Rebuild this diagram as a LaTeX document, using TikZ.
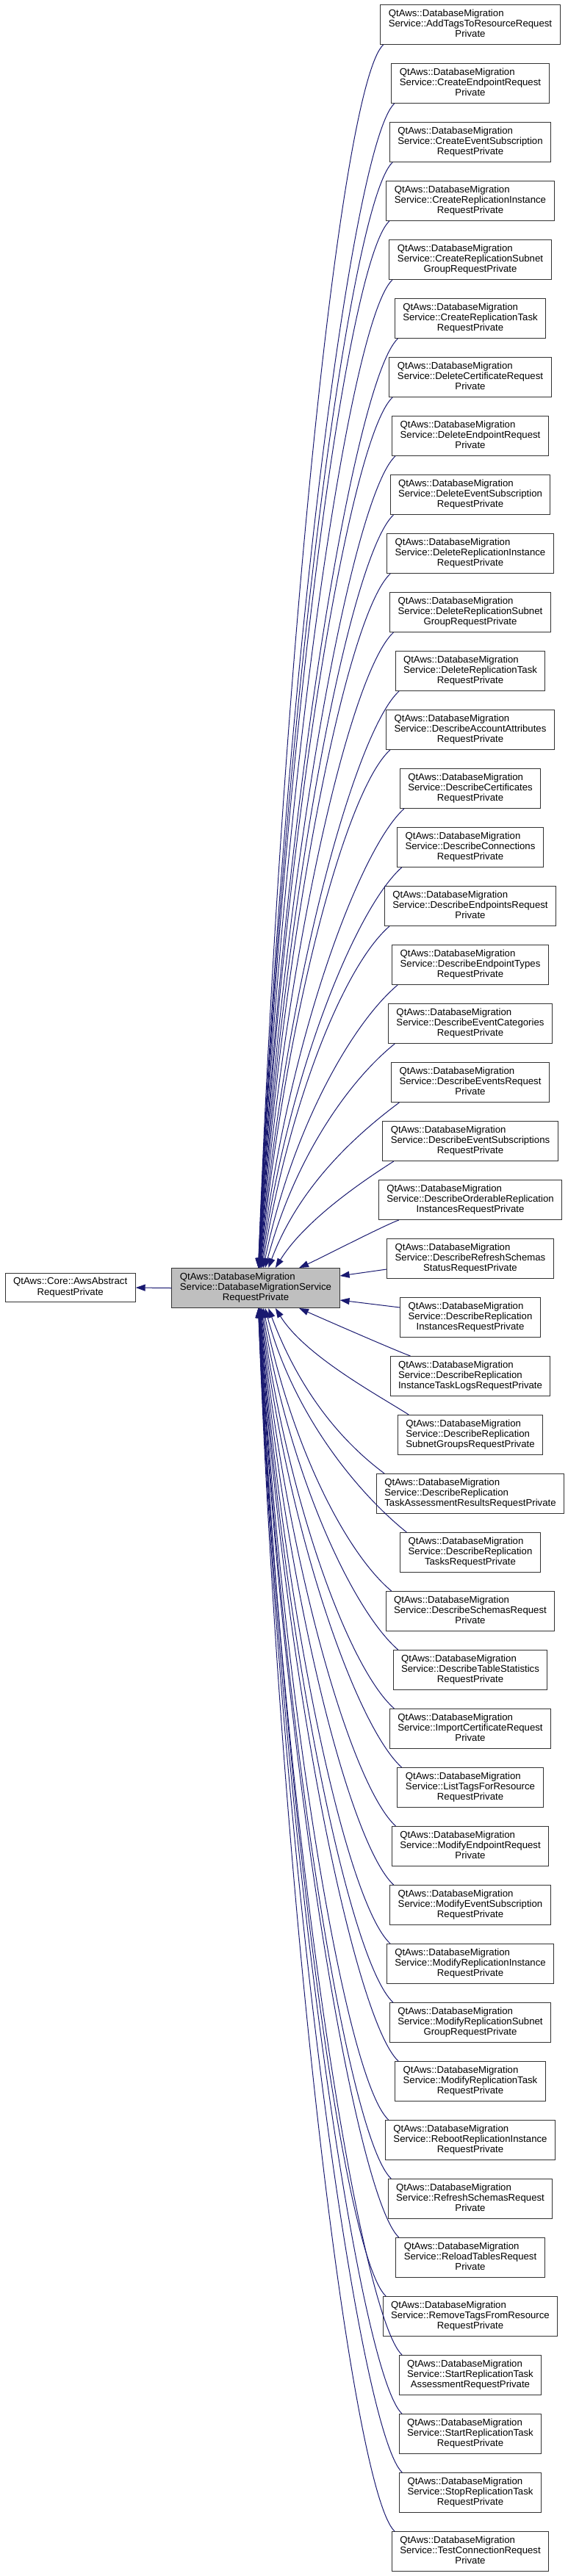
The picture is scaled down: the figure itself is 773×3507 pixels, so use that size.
\documentclass[tikz,border=0pt]{standalone}
\usepackage{fontspec}
\setmainfont{Liberation Sans}
\usetikzlibrary{arrows.meta}
\definecolor{edgec}{RGB}{25,25,112}
\definecolor{boxfill}{RGB}{191,191,191}
\newcommand{\dmtext}[2]{\begin{tabular}{@{}l@{}}QtAws::DatabaseMigration\\#1\\\multicolumn{1}{@{}c@{}}{#2}\end{tabular}}
\begin{document}
\begin{tikzpicture}[x=1pt,y=-1pt,
  clsbox/.style={draw=black!80, line width=1pt, fill=white, inner xsep=11pt, inner ysep=2pt, minimum height=54pt, font=\fontsize{13.2}{14.3}\selectfont},
  edge/.style={draw=edgec, line width=1pt, -{Triangle[length=13pt,width=9pt]}}]
\useasboundingbox (0,0) rectangle (773,3507);
\node[clsbox, fill=boxfill] (main) at (348,1753.5) {\dmtext{Service::DatabaseMigrationService}{RequestPrivate}};
\node[clsbox, minimum height=39pt] (base) at (95.7,1753) {\begin{tabular}{@{}l@{}}QtAws::Core::AwsAbstract\\\multicolumn{1}{@{}c@{}}{RequestPrivate}\end{tabular}};
\foreach \i/\a/\b in {
0/Service::AddTagsToResourceRequest/Private,
1/Service::CreateEndpointRequest/Private,
2/Service::CreateEventSubscription/RequestPrivate,
3/Service::CreateReplicationInstance/RequestPrivate,
4/Service::CreateReplicationSubnet/GroupRequestPrivate,
5/Service::CreateReplicationTask/RequestPrivate,
6/Service::DeleteCertificateRequest/Private,
7/Service::DeleteEndpointRequest/Private,
8/Service::DeleteEventSubscription/RequestPrivate,
9/Service::DeleteReplicationInstance/RequestPrivate,
10/Service::DeleteReplicationSubnet/GroupRequestPrivate,
11/Service::DeleteReplicationTask/RequestPrivate,
12/Service::DescribeAccountAttributes/RequestPrivate,
13/Service::DescribeCertificates/RequestPrivate,
14/Service::DescribeConnections/RequestPrivate,
15/Service::DescribeEndpointsRequest/Private,
16/Service::DescribeEndpointTypes/RequestPrivate,
17/Service::DescribeEventCategories/RequestPrivate,
18/Service::DescribeEventsRequest/Private,
19/Service::DescribeEventSubscriptions/RequestPrivate,
20/Service::DescribeOrderableReplication/InstancesRequestPrivate,
21/Service::DescribeRefreshSchemas/StatusRequestPrivate,
22/Service::DescribeReplication/InstancesRequestPrivate,
23/Service::DescribeReplication/InstanceTaskLogsRequestPrivate,
24/Service::DescribeReplication/SubnetGroupsRequestPrivate,
25/Service::DescribeReplication/TaskAssessmentResultsRequestPrivate,
26/Service::DescribeReplication/TasksRequestPrivate,
27/Service::DescribeSchemasRequest/Private,
28/Service::DescribeTableStatistics/RequestPrivate,
29/Service::ImportCertificateRequest/Private,
30/Service::ListTagsForResource/RequestPrivate,
31/Service::ModifyEndpointRequest/Private,
32/Service::ModifyEventSubscription/RequestPrivate,
33/Service::ModifyReplicationInstance/RequestPrivate,
34/Service::ModifyReplicationSubnet/GroupRequestPrivate,
35/Service::ModifyReplicationTask/RequestPrivate,
36/Service::RebootReplicationInstance/RequestPrivate,
37/Service::RefreshSchemasRequest/Private,
38/Service::ReloadTablesRequest/Private,
39/Service::RemoveTagsFromResource/RequestPrivate,
40/Service::StartReplicationTask/AssessmentRequestPrivate,
41/Service::StartReplicationTask/RequestPrivate,
42/Service::StopReplicationTask/RequestPrivate,
43/Service::TestConnectionRequest/Private}
{\node[clsbox] (c\i) at (640,{33.5+80*\i}) {\dmtext{\a}{\b}};}
% base edge
\draw[edge] (main.west) -- (base.east);
% side edges
\draw[edge] ([yshift=-14.5pt]c21.west) -- ([yshift=16.5pt]main.east);
\draw[edge] ([yshift=13.5pt]c22.west) -- ([yshift=-16.5pt]main.east);
% upper edges
\foreach \i in {0,...,20} {
  \pgfmathsetmacro\d{21-\i}
  \pgfmathsetmacro\D{1665-80*\i}
  \pgfmathsetmacro\xo{3+25/\d}
  \pgfmathsetmacro\tx{2+57/(\d^1.2)}
  \pgfmathsetmacro\th{45-25/\d}
  \pgfmathsetmacro\Lone{min(80,0.35*\D)}
  \pgfmathsetmacro\ph{90-66/(\d^1.3)}
  \pgfmathsetmacro\Ltwo{0.5*\D}
  \pgfmathsetmacro\ax{-\Lone*cos(\th)}
  \pgfmathsetmacro\ay{\Lone*sin(\th)}
  \pgfmathsetmacro\bx{\Ltwo*cos(\ph)+15*(1-1/\d)}
  \pgfmathsetmacro\by{-\Ltwo*sin(\ph)}
  \draw[edge] ([xshift=\xo pt]c\i.south west) .. controls +(\ax,\ay) and +(\bx,\by) .. ([xshift=\tx pt]main.north);
}
% lower edges
\foreach \i in {23,...,43} {
  \pgfmathsetmacro\d{\i-22}
  \pgfmathsetmacro\D{6+80*\i-1781}
  \pgfmathsetmacro\xo{3+25/\d}
  \pgfmathsetmacro\tx{2+57/(\d^1.2)}
  \pgfmathsetmacro\th{45-25/\d}
  \pgfmathsetmacro\Lone{min(80,0.35*\D)}
  \pgfmathsetmacro\ph{90-66/(\d^1.3)}
  \pgfmathsetmacro\Ltwo{0.5*\D}
  \pgfmathsetmacro\ax{-\Lone*cos(\th)}
  \pgfmathsetmacro\ay{-\Lone*sin(\th)}
  \pgfmathsetmacro\bx{\Ltwo*cos(\ph)+15*(1-1/\d)}
  \pgfmathsetmacro\by{\Ltwo*sin(\ph)}
  \draw[edge] ([xshift=\xo pt]c\i.north west) .. controls +(\ax,\ay) and +(\bx,\by) .. ([xshift=\tx pt]main.south);
}
\end{tikzpicture}
\end{document}
